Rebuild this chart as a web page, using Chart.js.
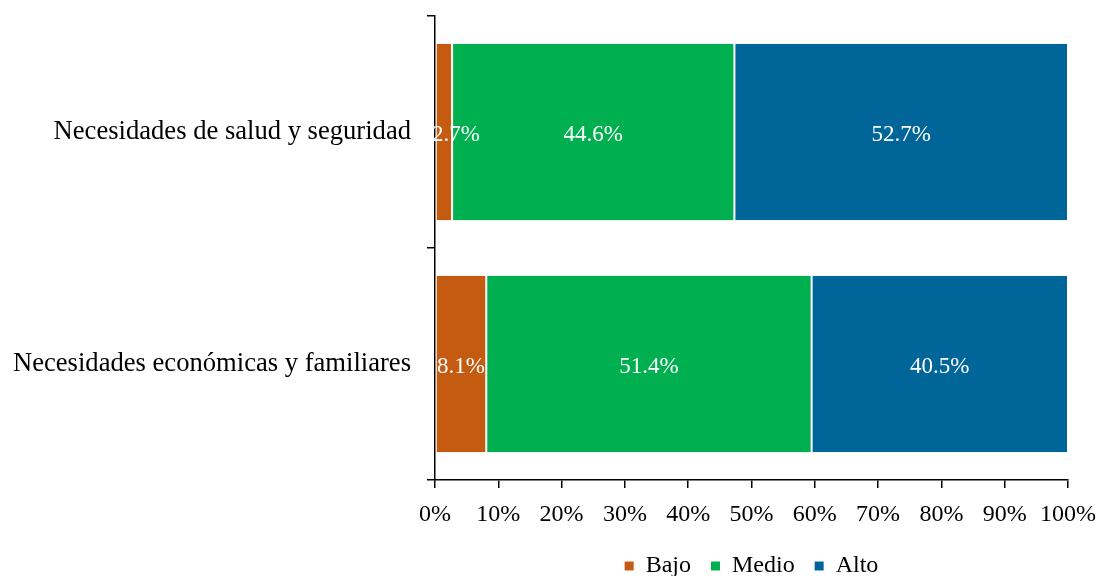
<!DOCTYPE html>
<html>
<head>
<meta charset="utf-8">
<script src="https://cdn.jsdelivr.net/npm/chart.js@4.4.1/dist/chart.umd.min.js"></script>
<style>
  html, body { margin: 0; padding: 0; background: #ffffff; }
  #wrap { width: 1100px; height: 576px; position: relative; }
</style>
</head>
<body>
<div id="wrap"><canvas id="c" width="1100" height="576"></canvas></div>
<script>
// Categories and series (percentages)
const categories = ["Necesidades de salud y seguridad", "Necesidades económicas y familiares"];
const seriesNames = ["Bajo", "Medio", "Alto"];
const bajo = [2.7, 8.1];
const medio = [44.6, 51.4];
const alto = [52.7, 40.5];
const xTicks = [0, 10, 20, 30, 40, 50, 60, 70, 80, 90, 100];

const colors = ["#C55A11", "#00B050", "#00669A"];
const serif = "'Liberation Serif', 'Times New Roman', Times, serif";

// White value labels centered in each segment
const segmentLabels = {
  id: "segmentLabels",
  afterDatasetsDraw(chart) {
    const ctx = chart.ctx;
    const area = chart.chartArea;
    ctx.save();
    ctx.font = "23px " + serif;
    ctx.fillStyle = "#ffffff";
    ctx.textAlign = "center";
    ctx.textBaseline = "middle";
    chart.data.datasets.forEach((ds, di) => {
      const meta = chart.getDatasetMeta(di);
      meta.data.forEach((el, i) => {
        const p = el.getProps(["x", "y", "base"], true);
        const text = ds.data[i].toFixed(1) + "%";
        const w = ctx.measureText(text).width;
        let cx = (p.x + p.base) / 2;
        cx = Math.max(cx, area.left - 3 + w / 2);
        ctx.fillText(text, cx, p.y + 3);
      });
    });
    ctx.restore();
  }
};

// Center the legend under the plot area rather than the whole canvas
const legendUnderPlot = {
  id: "legendUnderPlot",
  afterLayout(chart) {
    if (chart.legend) {
      chart.legend.left = chart.chartArea.left;
      chart.legend.right = chart.chartArea.right;
    }
  }
};

const seg = { left: 1, right: 1, top: 0, bottom: 0 };

new Chart(document.getElementById("c"), {
  type: "bar",
  data: {
    labels: categories,
    datasets: [
      { label: seriesNames[0], data: bajo, backgroundColor: colors[0], borderColor: "#ffffff", borderWidth: seg, borderSkipped: false },
      { label: seriesNames[1], data: medio, backgroundColor: colors[1], borderColor: "#ffffff", borderWidth: seg, borderSkipped: false },
      { label: seriesNames[2], data: alto, backgroundColor: colors[2], borderColor: "#ffffff", borderWidth: seg, borderSkipped: false }
    ]
  },
  options: {
    indexAxis: "y",
    responsive: false,
    animation: false,
    events: [],
    layout: { padding: { top: 16, right: 32, left: 0, bottom: 0 } },
    datasets: { bar: { categoryPercentage: 1.0, barPercentage: 0.76 } },
    scales: {
      x: {
        stacked: true,
        min: 0,
        max: 100,
        afterBuildTicks(scale) { scale.ticks = xTicks.map(v => ({ value: v })); },
        afterFit(scale) {
          scale.height = 54;
          scale.paddingLeft = 0;
          scale.paddingRight = 0;
        },
        ticks: {
          callback: v => v + "%",
          color: "#000000",
          padding: 12,
          maxRotation: 0,
          font: { family: serif, size: 24 }
        },
        grid: { drawOnChartArea: false, drawTicks: true, tickLength: 8, color: "#000000", lineWidth: 1.5 },
        border: { display: true, color: "#000000", width: 1.5 }
      },
      y: {
        stacked: true,
        afterFit(scale) {
          scale.width = 435;
          scale.paddingTop = 0;
          scale.paddingBottom = 0;
        },
        ticks: {
          color: "#000000",
          padding: 16,
          font: { family: serif, size: 26.6 }
        },
        grid: { offset: true, drawOnChartArea: false, drawTicks: true, tickLength: 8, color: "#000000", lineWidth: 1.5 },
        border: { display: true, color: "#000000", width: 1.5 }
      }
    },
    plugins: {
      tooltip: { enabled: false },
      legend: {
        position: "bottom",
        maxHeight: 42,
        labels: {
          color: "#000000",
          boxWidth: 9,
          boxHeight: 9,
          padding: 20,
          font: { family: serif, size: 24 },
          generateLabels(chart) {
            return Chart.defaults.plugins.legend.labels.generateLabels(chart).map(it => {
              it.lineWidth = 0;
              it.strokeStyle = it.fillStyle;
              return it;
            });
          }
        }
      }
    }
  },
  plugins: [segmentLabels, legendUnderPlot]
});
</script>
</body>
</html>
